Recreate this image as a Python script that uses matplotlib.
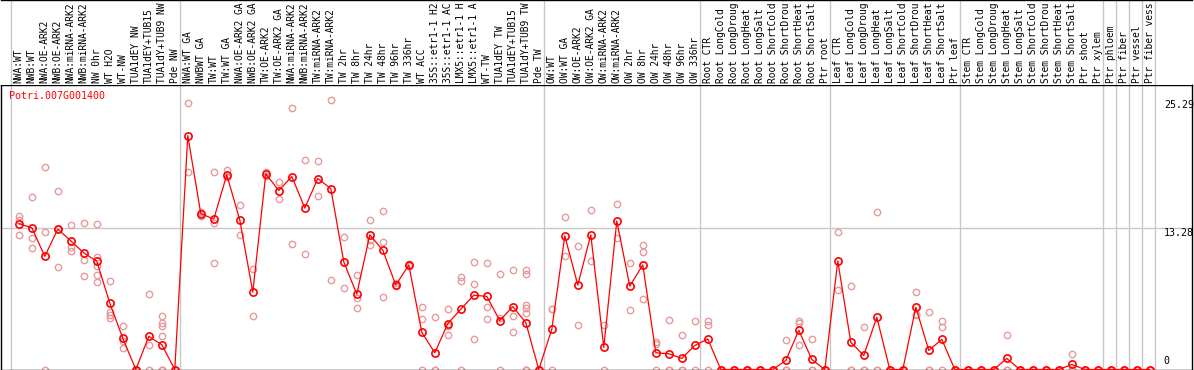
import matplotlib
matplotlib.use('Agg')
import matplotlib.pyplot as plt
import numpy as np

# --- data ---
gene = 'Potri.007G001400'

# sample names as printed (long names are cut at 14 characters in the header)
samples = [
    'NWA:WT', 'NWB:WT', 'NWA:OE-ARK2', 'NWB:OE-ARK2', 'NWA:miRNA-ARK2', 'NWB:miRNA-ARK2',
    'NW 0hr', 'WT H2O', 'WT-NW', 'TUA1dEY NW', 'TUA1dEY+TUB15', 'TUA1dY+TUB9 NW', 'Pde NW',
    'NWA:WT GA', 'NWBWT GA', 'TW:WT', 'TW:WT GA', 'NWA:OE-ARK2 GA', 'NWB:OE-ARK2 GA',
    'TW:OE-ARK2', 'TW:OE-ARK2 GA', 'NWA:miRNA-ARK2', 'NWB:miRNA-ARK2', 'TW:miRNA-ARK2',
    'TW:miRNA-ARK2', 'TW 2hr', 'TW 8hr', 'TW 24hr', 'TW 48hr', 'TW 96hr', 'TW 336hr', 'WT ACC',
    '35S::etr1-1 H2', '35S::etr1-1 AC', 'LMX5::etr1-1 H', 'LMX5::etr1-1 A', 'WT-TW',
    'TUA1dEY TW', 'TUA1dEY+TUB15', 'TUA1dY+TUB9 TW', 'Pde TW',
    'OW:WT', 'OW:WT GA', 'OW:OE-ARK2', 'OW:OE-ARK2 GA', 'OW:miRNA-ARK2', 'OW:miRNA-ARK2',
    'OW 2hr', 'OW 8hr', 'OW 24hr', 'OW 48hr', 'OW 96hr', 'OW 336hr',
    'Root CTR', 'Root LongCold', 'Root LongDroug', 'Root LongHeat', 'Root LongSalt',
    'Root ShortCold', 'Root ShortDrou', 'Root ShortHeat', 'Root ShortSalt', 'Ptr root',
    'Leaf CTR', 'Leaf LongCold', 'Leaf LongDroug', 'Leaf LongHeat', 'Leaf LongSalt',
    'Leaf ShortCold', 'Leaf ShortDrou', 'Leaf ShortHeat', 'Leaf ShortSalt', 'Ptr leaf',
    'Stem CTR', 'Stem LongCold', 'Stem LongDroug', 'Stem LongHeat', 'Stem LongSalt',
    'Stem ShortCold', 'Stem ShortDrou', 'Stem ShortHeat', 'Stem ShortSalt', 'Ptr shoot',
    'Ptr xylem', 'Ptr phloem', 'Ptr fiber', 'Ptr vessel', 'Ptr fiber vess',
]

group_sizes = [13, 28, 12, 10, 10, 11, 1, 1, 1, 1]

means = [
    13.69, 13.31, 10.63, 13.18, 12.08, 10.95, 10.16, 6.23, 2.93, 0, 3.11, 2.33, 0,
    21.96, 14.63, 14.13, 18.28, 14.03, 7.27, 18.37, 16.8, 18.12, 15.16, 17.93, 16.99,
    10.1, 7.08, 12.65, 11.2, 7.93, 9.82, 3.49, 1.57, 4.31, 5.66, 6.98, 6.86, 4.59, 5.91, 4.4, 0,
    3.78, 12.55, 7.93, 12.65, 2.08, 13.94, 7.83, 9.82, 1.57, 1.48, 1.04, 2.26,
    2.86, 0, 0, 0, 0, 0, 0.85, 3.68, 0.94, 0,
    10.19, 2.55, 1.32, 4.91, 0, 0, 5.85, 1.79, 2.83, 0,
    0, 0, 0, 1.04, 0, 0, 0, 0, 0.47, 0, 0,
    0, 0, 0, 0,
]

reps = [
    [14.44, 14.0, 12.6], [16.23, 12.33, 11.39], [19.04, 12.93, 0], [16.77, 13.17, 9.6],
    [13.56, 11.49, 11.17], [13.78, 10.32, 8.75], [13.69, 10.57, 9.75, 8.9, 8.18],
    [8.31, 5.38, 5.13, 4.88], [4.12, 2.69, 1.98], [0, 0, 0], [7.08, 2.26, 0],
    [5.0, 4.34, 4.12, 3.11, 0, 0, 0], [0, 0, 0],
    [25.0, 18.57], [14.8, 14.65, 14.44], [18.59, 13.78, 10.0], [18.72, 18.1, 18.03],
    [15.48, 12.65], [9.44, 5.07], [18.57, 18.17], [17.56, 16.05], [24.51, 11.77],
    [19.63, 10.85], [19.54, 16.33], [25.29, 8.37], [12.43, 7.61], [8.84, 6.7, 5.76],
    [14.06, 12.2, 11.67], [14.88, 11.96, 6.77], [8.1, 7.8], [9.9, 9.75], [5.85, 4.72, 0],
    [4.91, 0, 0], [5.66, 4.09, 3.21], [8.68, 8.28, 0], [10.1, 8.02, 2.83], [9.97, 5.85, 4.72],
    [8.97, 4.81, 0], [9.34, 5.0, 3.49], [9.34, 8.97, 6.07, 5.76, 5.29, 0, 0, 0], [0, 0, 0],
    [5.66, 5.7, 0], [14.35, 10.63], [11.61, 4.22], [14.98, 10.16], [4.15, 0], [15.57, 12.36],
    [9.97, 5.57], [11.73, 11.04, 6.61], [2.55, 2.36, 0], [4.62, 0, 0], [3.21, 0, 0], [4.53, 0],
    [4.53, 4.15, 0], [0, 0, 0], [0, 0, 0], [0, 0, 0], [0, 0, 0], [0, 0, 0], [2.74, 0, 0],
    [4.59, 4.4, 2.26], [2.83, 0, 0], [0, 0, 0],
    [12.9, 7.46], [7.83, 0, 0], [3.96, 0, 0], [14.79, 0, 0], [0, 0, 0], [0, 0, 0],
    [7.27, 5.2, 5.1], [5.38, 0, 0], [4.53, 3.96, 0], [0, 0, 0],
    [0, 0, 0], [0, 0, 0], [0, 0, 0], [3.27, 0, 0], [0, 0, 0], [0, 0, 0], [0, 0, 0],
    [0, 0, 0], [1.48, 0, 0], [0, 0, 0], [0, 0, 0],
    [0, 0, 0], [0, 0, 0], [0, 0, 0], [0, 0, 0],
]

y_marks = [25.29, 13.28, 0]

# --- layout (pixel based) ---
W, H, DPI = 1194, 370, 100
mono = 'DejaVu Sans Mono'
fs = 7.2
grey = '#c8c8c8'

n = len(samples)
x = np.arange(n) + 0.6
bounds = np.concatenate([[0], np.cumsum(group_sizes)])

fig = plt.figure(figsize=(W / DPI, H / DPI), dpi=DPI)
px0, px1 = 1, 1192           # left / right frame
top_plot, bot_plot = 85, 369.5
xlim = ((px0 - 11) / 13, (px1 - 11) / 13)

ax = fig.add_axes([px0 / W, (H - bot_plot) / H, (px1 - px0) / W, (bot_plot - top_plot) / H])
lab = fig.add_axes([px0 / W, (H - top_plot) / H, (px1 - px0) / W, top_plot / H])

ax.set_xlim(xlim)
ax.set_ylim(0, (bot_plot - top_plot) / 10.65)
lab.set_xlim(xlim)
lab.set_ylim(0, top_plot)

for a in (ax, lab):
    a.set_xticks([])
    a.set_yticks([])
    for s in a.spines.values():
        s.set_linewidth(1.0)
        s.set_color('black')
for s in ('left', 'right', 'bottom'):
    lab.spines[s].set_visible(False)

for b in bounds:
    ax.axvline(b, color=grey, lw=1.0, zorder=0)
    lab.axvline(b, color=grey, lw=1.0, zorder=0)
ax.axhline(y_marks[1], color=grey, lw=1.0, zorder=0)

# replicates
for xi, r in zip(x, reps):
    ax.plot([xi] * len(r), r, 'o', ms=4.6, mfc='none', mec='#e89a9a', mew=1.0,
            clip_on=False, zorder=2)

# mean line
ax.plot(x, means, '-', color='red', lw=0.9, zorder=3, clip_on=False)
ax.plot(x, means, 'o', ms=5.2, mfc='none', mec='red', mew=1.2, zorder=4, clip_on=False)

# sample labels
for xi, s in zip(x, samples):
    lab.text(xi, top_plot - 83, s, rotation=90, ha='center', va='bottom',
             family=mono, fontsize=6.9, color='black')

# gene name
ax.annotate(gene, xy=(0, 1), xycoords='axes fraction', xytext=(8.5, -6),
            textcoords='offset pixels', ha='left', va='top', family=mono,
            fontsize=fs, color='red')

# value marks on the right
xm = bounds[-1] + 0.68
ax.text(xm, y_marks[0], f'{y_marks[0]:.2f}', ha='left', va='top', family=mono, fontsize=fs)
ax.text(xm, y_marks[1], f'{y_marks[1]:.2f}', ha='left', va='top', family=mono, fontsize=fs)
ax.annotate(f'{y_marks[2]:g}', xy=(xm, y_marks[2]), xytext=(0, 3), textcoords='offset pixels',
            ha='left', va='bottom', family=mono, fontsize=fs)

fig.savefig('out.png', dpi=DPI)
